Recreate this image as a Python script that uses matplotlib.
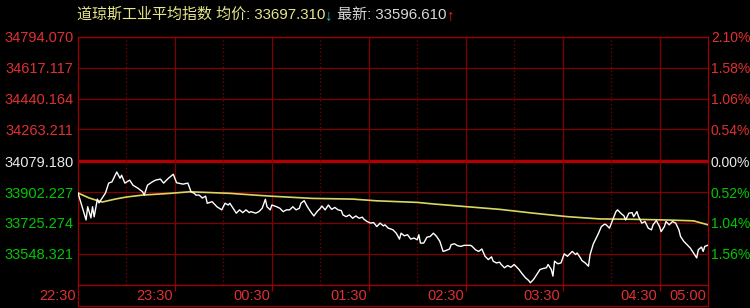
import matplotlib
matplotlib.use("Agg")
import matplotlib.pyplot as plt
import matplotlib.transforms as mtransforms

# minutes after 22:30 and index value (white line)
price_min = [0, 5, 6, 8, 9, 10, 12, 13, 15, 17, 19, 21, 24, 26, 27, 29, 32, 34, 37, 40,
             41, 43, 46, 48, 51, 53, 56, 59, 61, 65, 68, 70, 72, 73, 75, 77, 79, 80, 83, 85,
             86, 89, 91, 93, 94, 96, 98, 100, 102, 104, 106, 107, 110, 112, 114, 116, 117, 119, 120, 123,
             125, 127, 129, 131, 133, 135, 137, 138, 140, 142, 144, 146, 148, 150, 151, 153, 155, 157, 159, 161,
             163, 164, 166, 168, 170, 172, 174, 176, 177, 179, 181, 183, 185, 187, 189, 190, 192, 194, 195, 197,
             199, 200, 202, 204, 206, 208, 210, 211, 212, 214, 216, 218, 220, 221, 222, 224, 226, 228, 230, 231,
             233, 235, 237, 239, 241, 243, 244, 246, 248, 250, 252, 254, 256, 257, 259, 261, 262, 264, 266, 268,
             270, 272, 273, 275, 277, 279, 280, 282, 284, 286, 288, 290, 291, 293, 294, 295, 297, 299, 301, 303,
             304, 306, 308, 309, 311, 312, 314, 316, 317, 319, 321, 322, 324, 326, 327, 329, 331, 333, 334, 336,
             338, 339, 341, 343, 344, 346, 347, 349, 351, 353, 355, 356, 358, 360, 361, 363, 364, 366, 368, 370,
             372, 373, 375, 377, 379, 381, 383, 384, 386, 387, 388, 390]
price_val = [33897, 33742, 33818, 33754, 33818, 33760, 33862, 33840, 33868, 33897, 33954, 33961, 34018, 33982, 33999, 33954, 33971, 33942, 33925, 33904,
             33885, 33942, 33961, 33971, 33977, 33954, 33982, 34005, 33956, 33948, 33954, 33904, 33895, 33885, 33885, 33868, 33879, 33838, 33847, 33828,
             33818, 33800, 33838, 33828, 33838, 33809, 33781, 33800, 33784, 33800, 33784, 33790, 33781, 33790, 33809, 33861, 33818, 33800, 33828, 33818,
             33809, 33790, 33800, 33800, 33818, 33800, 33809, 33838, 33853, 33818, 33790, 33765, 33790, 33809, 33822, 33800, 33828, 33803, 33814, 33800,
             33796, 33771, 33761, 33771, 33752, 33765, 33752, 33758, 33746, 33733, 33724, 33727, 33704, 33724, 33708, 33714, 33695, 33689, 33685, 33666,
             33632, 33666, 33651, 33657, 33632, 33638, 33628, 33657, 33609, 33609, 33643, 33647, 33666, 33657, 33647, 33619, 33561, 33567, 33575, 33600,
             33605, 33594, 33590, 33596, 33596, 33596, 33590, 33571, 33561, 33575, 33533, 33514, 33530, 33505, 33495, 33499, 33486, 33467, 33480, 33470,
             33486, 33467, 33457, 33432, 33410, 33394, 33381, 33400, 33428, 33457, 33463, 33467, 33486, 33457, 33419, 33505, 33490, 33495, 33547, 33533,
             33543, 33561, 33543, 33552, 33524, 33508, 33495, 33476, 33543, 33604, 33642, 33661, 33704, 33718, 33714, 33695, 33742, 33790, 33800, 33781,
             33765, 33742, 33781, 33784, 33761, 33790, 33761, 33724, 33733, 33695, 33685, 33714, 33739, 33704, 33675, 33704, 33733, 33714, 33733, 33724,
             33685, 33647, 33619, 33600, 33581, 33552, 33524, 33571, 33586, 33561, 33590, 33597]

# average price line (yellow)
avg_min = [0, 7, 15, 23, 30, 40, 57, 69, 94, 119, 145, 170, 185, 210, 220, 241, 261, 282, 303, 323, 343, 364, 381, 390]
avg_val = [33897, 33868, 33845, 33862, 33874, 33885, 33895, 33904, 33895, 33879, 33866, 33862, 33852, 33843, 33834, 33818,
           33803, 33781, 33761, 33748, 33746, 33742, 33737, 33714]

base_val = 34079.180
left_ticks = [34794.070, 34617.117, 34440.164, 34263.211, 34079.180, 33902.227, 33725.274, 33548.321]
right_labels = ["2.10%", "1.58%", "1.06%", "0.54%", "0.00%", "0.52%", "1.04%", "1.56%"]
time_pos = [0, 60, 120, 180, 240, 300, 360, 390]
time_labels = ["22:30", "23:30", "00:30", "01:30", "02:30", "03:30", "04:30", "05:00"]

title_name = "道琼斯工业平均指数 均价: 33697.310"
title_last = " 最新: 33596.610"

GRID = "#800000"
RED = "#e03030"
GREEN = "#00c800"
WHITE = "#e8e8e8"
FONT = ["Liberation Sans", "Noto Sans CJK SC", "DejaVu Sans"]

plt.rcParams['font.family'] = FONT

fig = plt.figure(figsize=(7.5, 3.08), dpi=100, facecolor="black")
ax = fig.add_axes([78 / 750, 23 / 308, 630 / 750, 248 / 308], facecolor="black")

ax.set_xlim(0, 390)
ax.set_ylim(33368, 34794.07)

# grid
for v in left_ticks:
    if v == base_val:
        ax.axhline(v, color="#b00000", lw=2.4, zorder=1)
    else:
        ax.axhline(v, color=GRID, lw=0.9, zorder=1)
for m in range(30, 390, 30):
    if m % 60 == 0:
        ax.axvline(m, color=GRID, lw=0.9, zorder=1)
    else:
        ax.axvline(m, color=GRID, lw=0.9, ls=(0, (1, 2)), zorder=1)

ax.plot(avg_min, avg_val, color="#d8d860", lw=1.2, zorder=3)
ax.plot(price_min, price_val, color="white", lw=1.0, zorder=4)

for s in ax.spines.values():
    s.set_color("#a00000")
    s.set_linewidth(0.9)
ax.set_xticks([])
ax.set_yticks(left_ticks)
ax.set_yticklabels(["%.3f" % v for v in left_ticks])
ax.tick_params(axis="y", length=0, pad=3, labelsize=10.5)
for lab, v in zip(ax.get_yticklabels(), left_ticks):
    lab.set_color(WHITE if v == base_val else (RED if v > base_val else GREEN))

axr = ax.twinx()
axr.set_ylim(ax.get_ylim())
axr.set_yticks(left_ticks)
axr.set_yticklabels(right_labels)
axr.tick_params(axis="y", length=0, pad=2, labelsize=10)
for s in axr.spines.values():
    s.set_visible(False)
for lab, v in zip(axr.get_yticklabels(), left_ticks):
    lab.set_color(WHITE if v == base_val else (RED if v > base_val else GREEN))

# time strip
axt = fig.add_axes([78 / 750, 2 / 308, 630 / 750, 21 / 308], facecolor="black")
axt.set_xlim(0, 390)
axt.set_ylim(0, 1)
axt.set_yticks([])
axt.set_xticks(time_pos[1:-1])
axt.tick_params(axis="x", direction="in", top=True, bottom=False, labelbottom=False,
                length=4, color="#a00000", width=0.9)
for s in axt.spines.values():
    s.set_color("#a00000")
    s.set_linewidth(0.9)
offs = mtransforms.offset_copy(axt.transData, fig=fig, x=-2, y=0, units="dots")
for m, t in zip(time_pos, time_labels):
    axt.text(m, 0.5, t, transform=offs, ha="right", va="center", color=RED,
             fontsize=10.5, clip_on=False)

# title in coloured pieces
t1 = fig.text(77 / 750, 1 - 15 / 308, title_name, color="#e6e68a", fontsize=10.8,
              va="center", ha="left")
t2 = ax.annotate("↓", xy=(1, 0.5), xycoords=t1, va="center", ha="left",
                 color="#20c8d0", fontsize=11, annotation_clip=False)
t3 = ax.annotate(title_last, xy=(1, 0.5), xycoords=t2, va="center", ha="left",
                 color="#d8d8d8", fontsize=10.8, annotation_clip=False)
ax.annotate("↑", xy=(1, 0.5), xycoords=t3, va="center", ha="left",
            color="#ff2020", fontsize=11, annotation_clip=False)

fig.savefig("out.png", dpi=100, facecolor="black")
